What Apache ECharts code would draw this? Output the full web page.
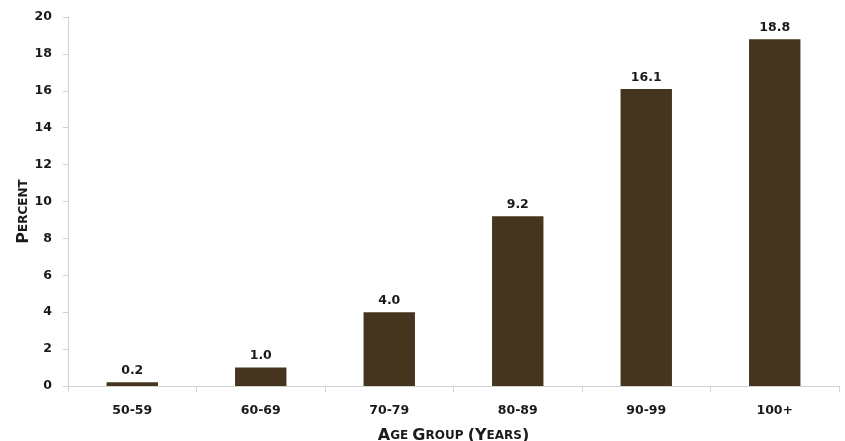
<!DOCTYPE html>
<html>
<head>
<meta charset="utf-8">
<script src="https://cdn.jsdelivr.net/npm/echarts@6/dist/echarts.min.js"></script>
<style>
  html, body { margin: 0; padding: 0; background: #fff; }
  #chart { width: 845px; height: 441px; }
</style>
</head>
<body>
<div id="chart"></div>
<script>
// Age groups and share (percent) per group
const ageGroups = ['50-59', '60-69', '70-79', '80-89', '90-99', '100+'];
const percentValues = [0.2, 1.0, 4.0, 9.2, 16.1, 18.8];

const FONT = '"DejaVu Sans", sans-serif';
const TEXT_COLOR = '#1a1a1a';
const BAR_COLOR = '#45351f';
const AXIS_COLOR = '#d2d2d2';

// small-caps style titles: large initials, smaller remaining capitals
const capsRich = {
  big: { fontFamily: FONT, fontWeight: 'bold', fontSize: 16, color: TEXT_COLOR },
  small: { fontFamily: FONT, fontWeight: 'bold', fontSize: 12, color: TEXT_COLOR }
};

const chart = echarts.init(document.getElementById('chart'));
chart.setOption({
  animation: false,
  backgroundColor: '#ffffff',
  grid: { left: 68, right: 6, top: 17, bottom: 55, containLabel: false, outerBoundsMode: 'none' },
  xAxis: {
    type: 'category',
    data: ageGroups,
    axisLine: { lineStyle: { color: AXIS_COLOR, width: 1 } },
    axisTick: { show: true, alignWithLabel: false, length: 6, lineStyle: { color: AXIS_COLOR } },
    axisLabel: { color: TEXT_COLOR, fontFamily: FONT, fontWeight: 'bold', fontSize: 12.5, margin: 18 },
    name: '{big|A}{small|GE }{big|G}{small|ROUP }{big|(Y}{small|EARS}{big|)}',
    nameLocation: 'middle',
    nameGap: 42,
    nameMoveOverlap: false,
    nameTextStyle: { rich: capsRich }
  },
  yAxis: {
    type: 'value',
    min: 0,
    max: 20,
    interval: 2,
    axisLine: { show: true, lineStyle: { color: AXIS_COLOR, width: 1 } },
    axisTick: { show: true, length: 5, lineStyle: { color: AXIS_COLOR } },
    splitLine: { show: false },
    axisLabel: { color: TEXT_COLOR, fontFamily: FONT, fontWeight: 'bold', fontSize: 12.5, margin: 16 },
    name: '{big|P}{small|ERCENT}',
    nameLocation: 'middle',
    nameGap: 36,
    nameRotate: 90,
    nameMoveOverlap: false,
    nameTextStyle: { rich: capsRich, padding: [0, 20, 0, 0] }
  },
  series: [{
    type: 'bar',
    data: percentValues,
    barWidth: '40%',
    itemStyle: { color: BAR_COLOR },
    label: {
      show: true,
      position: 'top',
      distance: 5,
      formatter: p => p.value.toFixed(1),
      color: TEXT_COLOR,
      fontFamily: FONT,
      fontWeight: 'bold',
      fontSize: 12.5
    }
  }]
});
</script>
</body>
</html>
